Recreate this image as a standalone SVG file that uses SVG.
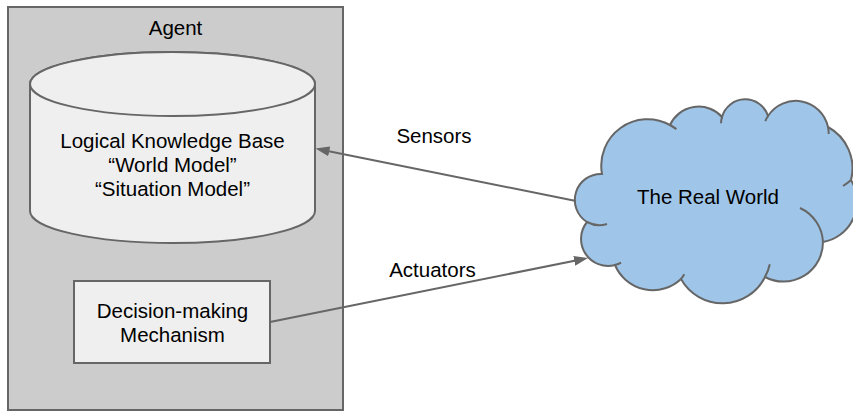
<svg xmlns="http://www.w3.org/2000/svg" width="853" height="412" viewBox="0 0 853 412">
  <style>
    .shape { stroke: #666666; stroke-width: 2; }
    .txt { font-family: "Liberation Sans", Arial, sans-serif; font-size: 20.5px; fill: #000000; text-anchor: middle; }
    .conn { stroke: #666666; stroke-width: 2; fill: none; marker-end: url(#arrow); }
    .tail { stroke: #666666; stroke-width: 2; fill: none; }
  </style>
  <defs>
    <marker id="arrow" markerUnits="userSpaceOnUse" markerWidth="14" markerHeight="10" refX="8" refY="5" orient="auto">
      <path d="M0,0 L14,5 L0,10 Z" fill="#666666"/>
    </marker>
  </defs>
  <rect width="853" height="412" fill="#ffffff"/>

  <g id="agent">
    <rect class="shape" x="8" y="7" width="335" height="403" fill="#cccccc"/>
    <text class="txt" x="175.5" y="35">Agent</text>
  </g>

  <g id="knowledge-base">
    <path class="shape" fill="#efefef" d="M30,84 L30,211 A142.5,32 0 0 0 315,211 L315,84 A142.5,32 0 0 0 30,84 Z"/>
    <ellipse class="shape" cx="172.5" cy="84" rx="142.5" ry="32" fill="#efefef"/>
    <text class="txt" x="172.5" y="148">Logical Knowledge Base</text>
    <text class="txt" x="172.5" y="172">“World Model”</text>
    <text class="txt" x="172.5" y="195.5">“Situation Model”</text>
  </g>

  <g id="decision">
    <rect class="shape" x="74" y="281" width="196" height="82" fill="#efefef"/>
    <text class="txt" x="172.5" y="318">Decision-making</text>
    <text class="txt" x="172.5" y="342">Mechanism</text>
  </g>

  <g id="real-world">
    <path class="shape" fill="#9fc5e8" d="M587,222 A26,26 0 0 1 602,174 A46.4,46.4 0 0 1 670,125 A31.5,31.5 0 0 1 722,117 A24,24 0 0 1 768,116 A33,33 0 0 1 828,127 A47,47 0 0 1 851,180 A41.2,41.2 0 0 1 823,242 A39.5,39.5 0 0 1 765,277 A47.5,47.5 0 0 1 681,279 A41,41 0 0 1 615,265 A27,27 0 0 1 587,222 Z"/>
    <path class="tail" d="M670,125 A46.4,46.4 0 0 1 676.4,129.1 M721,123.2 A24,24 0 0 1 722,117 M765.3,121.1 A33,33 0 0 1 768,116 M828,127 A33,33 0 0 1 828.7,134 M851,180 A47,47 0 0 1 843,186 M800,208 A39.5,39.5 0 0 1 823,242 M769.8,264.2 A47.5,47.5 0 0 1 765,277 M684.3,274.2 A41,41 0 0 1 681,279 M621.1,262.6 A27,27 0 0 1 615,265 M607,224 A26,26 0 0 1 587,222"/>
    <text class="txt" x="708" y="204">The Real World</text>
  </g>

  <g id="connectors">
    <path id="sensors" class="conn" d="M576,201 L321.4,149.7"/>
    <path id="actuators" class="conn" d="M270,322 L582.1,259.2"/>
    <text class="txt" x="434" y="143">Sensors</text>
    <text class="txt" x="432.5" y="277">Actuators</text>
  </g>
</svg>
